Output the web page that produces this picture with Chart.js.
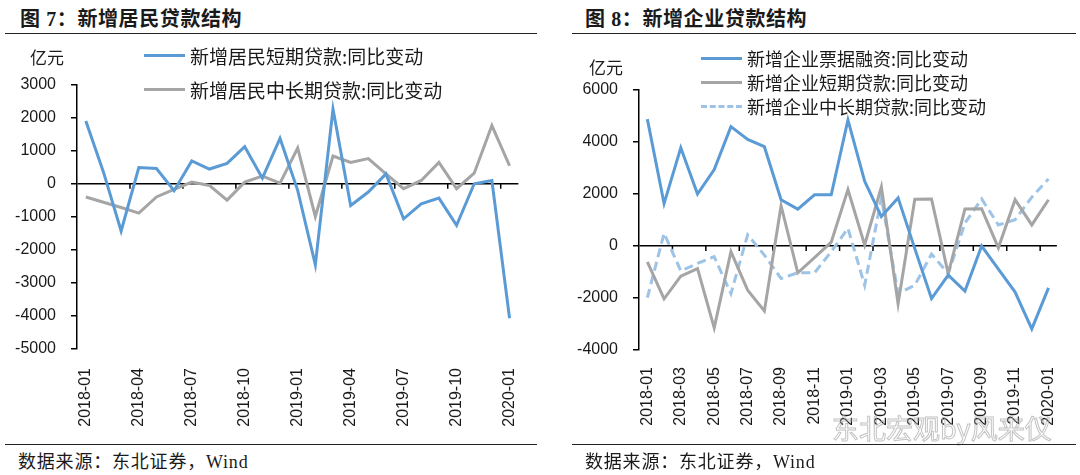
<!DOCTYPE html>
<html>
<head>
<meta charset="utf-8">
<script src="https://cdn.jsdelivr.net/npm/chart.js@4.4.1/dist/chart.umd.min.js"></script>
<style>
  body { margin: 0; width: 1080px; height: 475px; background: #fff; position: relative; overflow: hidden;
         font-family: "Noto Sans CJK SC", sans-serif; color: #1a1a1a; }
  .title { position: absolute; top: 3px; font-family: "Liberation Serif", "Noto Sans CJK SC", serif;
           font-weight: bold; font-size: 20px; letter-spacing: 0.6px; white-space: nowrap; }
  .rule { position: absolute; height: 0; border-top: 1.5px solid #222; }
  .src { position: absolute; top: 447px; font-family: "Liberation Serif", "Noto Sans CJK SC", serif;
         font-size: 18px; letter-spacing: 0.8px; white-space: nowrap; }
  .unit { position: absolute; font-size: 17px; line-height: 20px; }
  .leg { position: absolute; display: flex; align-items: center; height: 24px; white-space: nowrap; }
  .leg .ln { display: inline-block; width: 41px; height: 0; border-top: 3px solid; margin-right: 5px; }
  .box { position: absolute; top: 60px; height: 380px; }
  .wm { position: absolute; left: 832px; top: 408px; font-size: 27px; color: rgba(255,255,255,0);
        -webkit-text-stroke: 1px rgba(170,170,170,0.7); white-space: nowrap; }
</style>
</head>
<body>
<div class="title" style="left:20px">图 7：新增居民贷款结构</div>
<div class="rule" style="left:5px; width:532px; top:33px"></div>
<div class="title" style="left:585px">图 8：新增企业贷款结构</div>
<div class="rule" style="left:572px; width:504px; top:33px"></div>

<div class="box" style="left:0; width:548px"><canvas id="c1"></canvas></div>
<div class="box" style="left:540px; width:545px"><canvas id="c2"></canvas></div>

<div class="unit" style="left:30px; top:47px">亿元</div>
<div class="unit" style="left:589px; top:57px">亿元</div>
<div id="leg1"></div>
<div id="leg2"></div>

<div class="wm">东北宏观by风来仪</div>
<div class="rule" style="left:5px; width:532px; top:444px"></div>
<div class="rule" style="left:572px; width:504px; top:444px"></div>
<div class="src" style="left:18px">数据来源：东北证券，Wind</div>
<div class="src" style="left:585px">数据来源：东北证券，Wind</div>

<script>
// categories
const months = ["2018-01", "2018-02", "2018-03", "2018-04", "2018-05", "2018-06", "2018-07", "2018-08",
  "2018-09", "2018-10", "2018-11", "2018-12", "2019-01", "2019-02", "2019-03", "2019-04", "2019-05",
  "2019-06", "2019-07", "2019-08", "2019-09", "2019-10", "2019-11", "2019-12", "2020-01"];

// 图7 新增居民贷款 (亿元, 同比变动)
const householdShort = [1900, 350, -1430, 490, 460, -210, 690, 445, 615, 1120, 170, 1370, -200,
  -2450, 2260, -660, -250, 300, -1060, -610, -435, -1260, 0, 100, -4070];
const householdLong = [-400, -560, -720, -890, -400, -170, 50, -50, -495, 50, 230, 20, 1080,
  -990, 840, 645, 760, 300, -150, 100, 645, -150, 320, 1760, 545];

// 图8 新增企业贷款 (亿元, 同比变动)
const corpBill = [4880, 1630, 3780, 2000, 2940, 4590, 4100, 3820, 1780, 1420, 1970, 1970, 4850,
  2490, 1130, 1850, -100, -2020, -1120, -1730, 0, -890, -1770, -3190, -1610];
const corpShort = [-610, -2030, -1160, -870, -3150, -220, -1700, -2500, 1550, -1030, -450, 150, 2170,
  40, 2270, -2220, 1800, 1810, -1060, 1420, 1430, -70, 1780, 810, 1780];
const corpLong = [-1990, 490, -960, -670, -410, -1830, 430, -350, -1250, -1030, -1030, -220, 680,
  -1510, 1850, -1830, -1510, -310, -1060, 880, 1810, 810, 1010, 1880, 2580];

const BLUE = "#5b9bd5", GRAY = "#a5a5a5", LIGHT = "#9dc3e6";
const axisFont = { family: "Liberation Sans", size: 16 };

// small tick marks on the zero line, between categories
const zeroTicks = {
  id: "zeroTicks",
  beforeDatasetsDraw(chart, args, opts) {
    const { ctx, scales: { x, y } } = chart;
    const y0 = y.getPixelForValue(0);
    ctx.save();
    ctx.strokeStyle = "#000";
    ctx.lineWidth = 1.5;
    for (let i = opts.step; i < chart.data.labels.length; i += opts.step) {
      const px = (x.getPixelForValue(i - 1) + x.getPixelForValue(i)) / 2;
      ctx.beginPath();
      ctx.moveTo(px, y0);
      ctx.lineTo(px, y0 + 5);
      ctx.stroke();
    }
    ctx.restore();
  }
};

function makeChart(id, datasets, cfg) {
  return new Chart(document.getElementById(id), {
    type: "line",
    data: { labels: months, datasets: datasets },
    plugins: [zeroTicks],
    options: {
      responsive: true,
      maintainAspectRatio: false,
      animation: false,
      layout: { padding: cfg.padding },
      elements: { point: { radius: 0 }, line: { tension: 0 } },
      plugins: { legend: { display: false }, tooltip: { enabled: false }, zeroTicks: { step: cfg.tickStep } },
      scales: {
        x: {
          offset: true,
          grid: { display: false, drawTicks: false },
          border: { display: false },
          ticks: {
            autoSkip: false, minRotation: 90, maxRotation: 90, padding: cfg.labelPad,
            color: "#1a1a1a", font: axisFont,
            callback: (v, i) => (i % cfg.tickStep === 0 ? months[i] : null)
          },
          afterFit: s => { s.height = cfg.xHeight; }
        },
        y: {
          min: cfg.min, max: cfg.max,
          ticks: { stepSize: cfg.step, padding: 15, color: "#1a1a1a", font: axisFont, callback: v => String(v) },
          grid: {
            color: c => (c.tick && c.tick.value === 0 ? "#000" : "rgba(0,0,0,0)"),
            tickColor: "#000", tickLength: 6, lineWidth: 1.5
          },
          border: { display: true, color: "#000", width: 1.5 },
          afterFit: s => { s.width = cfg.yWidth; }
        }
      }
    }
  });
}

makeChart("c1", [
  { label: "新增居民短期贷款:同比变动", data: householdShort, borderColor: BLUE, borderWidth: 3 },
  { label: "新增居民中长期贷款:同比变动", data: householdLong, borderColor: GRAY, borderWidth: 3 }
], { min: -5000, max: 3000, step: 1000, tickStep: 3, labelPad: 19, xHeight: 91, yWidth: 77,
     padding: { top: 19, right: 13, left: 0, bottom: 0 } });

makeChart("c2", [
  { label: "新增企业票据融资:同比变动", data: corpBill, borderColor: BLUE, borderWidth: 3 },
  { label: "新增企业短期贷款:同比变动", data: corpShort, borderColor: GRAY, borderWidth: 3 },
  { label: "新增企业中长期贷款:同比变动", data: corpLong, borderColor: LIGHT, borderWidth: 3, borderDash: [9, 5] }
], { min: -4000, max: 6000, step: 2000, tickStep: 2, labelPad: 17, xHeight: 90, yWidth: 99,
     padding: { top: 30, right: 14, left: 0, bottom: 0 } });

// legends
function legend(el, items, left, tops, size) {
  const root = document.getElementById(el);
  items.forEach((it, k) => {
    const d = document.createElement("div");
    d.className = "leg";
    d.style.left = left + "px";
    d.style.top = (tops[k] - 12) + "px";
    d.style.fontSize = size + "px";
    const ln = document.createElement("span");
    ln.className = "ln";
    ln.style.borderTopColor = it.borderColor;
    if (it.borderDash) ln.style.borderTopStyle = "dashed";
    d.appendChild(ln);
    d.appendChild(document.createTextNode(it.label));
    root.appendChild(d);
  });
}
legend("leg1", Chart.getChart("c1").data.datasets, 144, [55, 89], 19);
legend("leg2", Chart.getChart("c2").data.datasets, 701, [58, 82, 106], 18);
</script>
</body>
</html>
